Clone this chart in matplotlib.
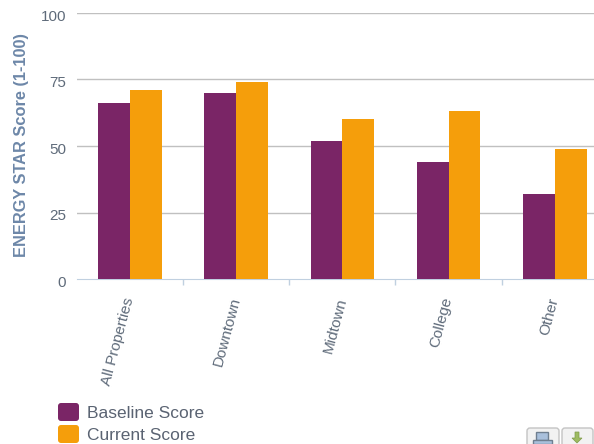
import matplotlib
matplotlib.use("Agg")
import matplotlib.pyplot as plt
from matplotlib.patches import FancyBboxPatch, Rectangle, Polygon
from matplotlib.transforms import ScaledTranslation
import numpy as np

# values
categories = ["All Properties", "Downtown", "Midtown", "College", "Other"]
baseline = [66, 70, 52, 44, 32]
current = [71, 74, 60, 63, 49]
yticks = [0, 25, 50, 75, 100]

plt.rcParams["font.family"] = ["Liberation Sans", "DejaVu Sans"]

W, H = 594, 444
fig = plt.figure(figsize=(W / 100, H / 100), dpi=100)
ax = fig.add_axes([77 / W, 1 - 279 / H, (594 - 77) / W, (279 - 13) / H])

x = np.arange(len(categories))
bw = 0.3
ax.bar(x - bw / 2, baseline, bw, color="#7a2566", zorder=3)
ax.bar(x + bw / 2, current, bw, color="#f59e0b", zorder=3)

ax.set_xlim(-0.5, 4.37)
ax.set_ylim(0, 100)
ax.set_yticks(yticks)
ax.tick_params(axis="y", length=0, labelsize=11, labelcolor="#5f6b7a", pad=8)
# tick labels sit a bit under their gridline
for lab in ax.get_yticklabels():
    lab.set_transform(lab.get_transform() + ScaledTranslation(0, -1.5 / 72, fig.dpi_scale_trans))
ax.set_xticks(np.arange(0.5, 4.5, 1))
ax.set_xticklabels([])
ax.tick_params(axis="x", length=4.5, color="#c0d0e0", width=1)
ax.grid(axis="y", color="#c0c0c0", lw=1, zorder=0)
ax.yaxis.get_gridlines()[0].set_visible(False)
for s in ["top", "left", "right"]:
    ax.spines[s].set_visible(False)
ax.spines["bottom"].set_color("#c0d0e0")

for i, c in enumerate(categories):
    ax.annotate(c, (i, 0), xytext=(-7, -17), textcoords="offset pixels", rotation=75,
                ha="right", va="top", rotation_mode="anchor", fontsize=11, color="#5f6b7a")

fig.text(22 / W, 1 - 145 / H, "ENERGY STAR Score (1-100)", rotation=90, ha="center", va="center",
         fontsize=11.8, fontweight="bold", color="#6d87a8")

# legend
for y0, col, lab in [(412, "#7a2566", "Baseline Score"), (434, "#f59e0b", "Current Score")]:
    fig.add_artist(FancyBboxPatch((58, H - y0 - 9), 21, 18, boxstyle="round,pad=0,rounding_size=3",
                                  transform=None, fc=col, ec="none"))
    fig.text(87 / W, 1 - (y0 + 1) / H, lab, ha="left", va="center", fontsize=12.5, color="#5a6372")

# export buttons, cut off by the bottom edge
for x0, x1 in [(527, 559), (562, 593)]:
    fig.add_artist(FancyBboxPatch((x0, -6), x1 - x0, 22, boxstyle="round,pad=0,rounding_size=3",
                                  transform=None, fc="#f2f2f2", ec="#c4c4c4", lw=1))
fig.add_artist(Rectangle((536, 4), 12, 8, transform=None, fc="#a9c0dc", ec="#6f7f90", lw=1))
fig.add_artist(Rectangle((533, 0), 19, 4, transform=None, fc="#a9c0dc", ec="#6f7f90", lw=1))
fig.add_artist(Polygon([(575, 12), (579, 12), (579, 6), (582, 6), (577, 1), (572, 6), (575, 6)],
                       transform=None, fc="#9dbb61", ec="#7f9a4a", lw=0.5))

fig.savefig("out.png", dpi=100)
